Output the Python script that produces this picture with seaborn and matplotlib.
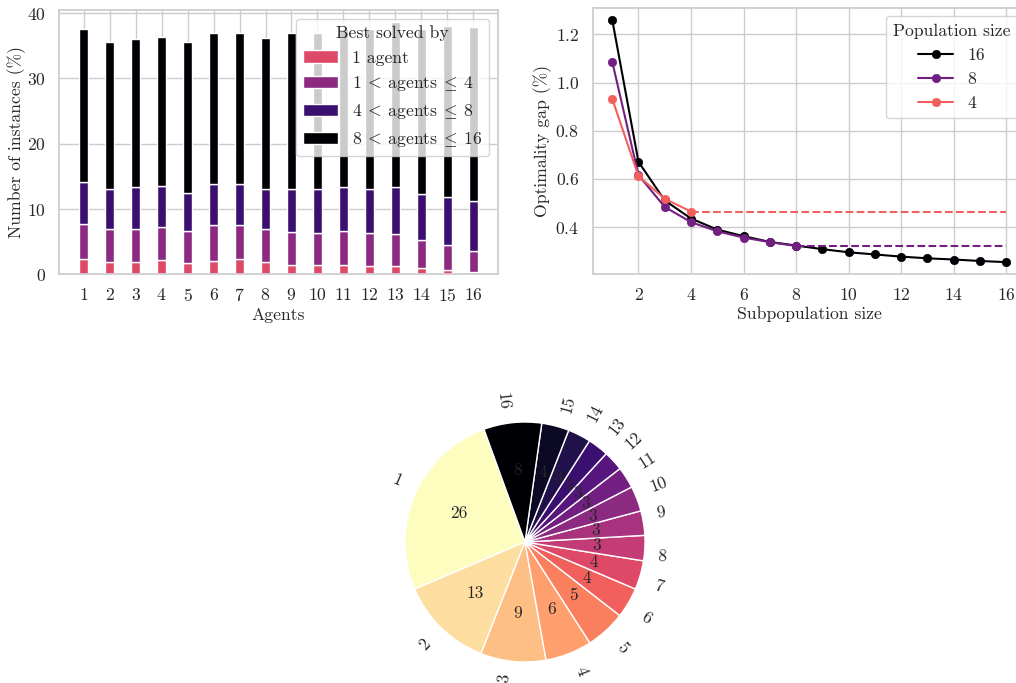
import numpy as np
import matplotlib
matplotlib.use("Agg")
import matplotlib.pyplot as plt
import seaborn as sns

# ---- stacked bars: share of instances best solved by each agent group ----
agents = list(range(1, 17))
one_agent = [2.3, 1.9, 1.9, 2.2, 1.7, 2.05, 2.4, 1.9, 1.5, 1.4, 1.4, 1.3, 1.2, 0.9, 0.7, 0.35]
two_to_four = [5.4, 5.0, 5.0, 5.1, 5.0, 5.45, 5.2, 5.1, 5.0, 4.9, 5.3, 5.0, 5.0, 4.4, 3.8, 3.25]
five_to_eight = [6.5, 6.1, 6.4, 6.3, 5.8, 6.3, 6.3, 6.1, 6.5, 6.7, 6.7, 6.8, 7.1, 7.0, 7.4, 7.7]
nine_to_sixteen = [23.4, 22.6, 22.8, 22.7, 23.1, 23.1, 23.0, 23.1, 24.0, 24.0, 24.1, 24.5, 25.3, 25.3, 26.2, 26.6]
group_labels = ["1 agent",
                r"$1\:<\:\mathrm{agents}\:\leq\:4$",
                r"$4\:<\:\mathrm{agents}\:\leq\:8$",
                r"$8\:<\:\mathrm{agents}\:\leq\:16$"]

# ---- optimality gap vs subpopulation size ----
sub_16 = list(range(1, 17))
gap_16 = [1.261, 0.671, 0.511, 0.436, 0.390, 0.363, 0.339, 0.324,
          0.309, 0.296, 0.287, 0.278, 0.271, 0.266, 0.260, 0.255]
sub_8 = list(range(1, 9))
gap_8 = [1.087, 0.616, 0.484, 0.421, 0.383, 0.357, 0.338, 0.322]
sub_4 = list(range(1, 5))
gap_4 = [0.933, 0.612, 0.518, 0.465]

# ---- pie: share per number of agents ----
pie_labels = [str(i) for i in range(1, 17)]
pie_values = [25.9, 12.6, 8.8, 6.3, 5.4, 4.1, 3.9, 3.4, 3.3, 3.4, 2.9, 2.7, 2.8, 3.1, 3.7, 7.8]

sns.set_theme(style="whitegrid", context="notebook")
plt.rcParams["font.family"] = "serif"
plt.rcParams["font.serif"] = ["cmr10"]
plt.rcParams["mathtext.fontset"] = "cm"
plt.rcParams["axes.formatter.use_mathtext"] = True
plt.rcParams.update({
    "font.size": 12.5,
    "axes.labelsize": 12.7,
    "xtick.labelsize": 12.7,
    "ytick.labelsize": 12.7,
    "legend.fontsize": 12.7,
    "legend.title_fontsize": 12.7,
})

W, H = 1016, 683
fig = plt.figure(figsize=(W / 100, H / 100), dpi=100)


def px_axes(left, top, right, bottom):
    return fig.add_axes([left / W, 1 - bottom / H, (right - left) / W, (bottom - top) / H])


magma = plt.get_cmap("magma")

# stacked bar chart
ax1 = px_axes(59, 9.7, 498, 274.3)
bar_colors = magma([0.6, 0.4, 0.2, 0.0])
bottom = np.zeros(len(agents))
for vals, col, lab in zip([one_agent, two_to_four, five_to_eight, nine_to_sixteen],
                          bar_colors, group_labels):
    ax1.bar(agents, vals, width=0.35, bottom=bottom, color=col,
            edgecolor="white", linewidth=1, label=lab)
    bottom = bottom + np.asarray(vals)
ax1.set_xticks(agents)
ax1.set_xlabel("Agents", labelpad=2)
ax1.set_ylabel("Number of instances (%)", labelpad=1)
ax1.legend(title="Best solved by", loc="upper right")

# optimality gap lines
ax2 = px_axes(592.5, 7.5, 1026, 274.3)
line_colors = magma([0.0, 1 / 3, 2 / 3])
for xs, ys, col, lab in zip([sub_16, sub_8, sub_4], [gap_16, gap_8, gap_4],
                            line_colors, ["16", "8", "4"]):
    sns.lineplot(x=xs, y=ys, ax=ax2, color=col, marker="o", markersize=6,
                 markeredgecolor=col, markeredgewidth=0.5, linewidth=1.5, label=lab)
    if xs[-1] < sub_16[-1]:
        ax2.plot([xs[-1], sub_16[-1]], [ys[-1], ys[-1]], color=col,
                 linestyle="--", linewidth=1.5)
ax2.set_xticks(range(2, 17, 2))
ax2.set_yticks([0.4, 0.6, 0.8, 1.0, 1.2])
ax2.set_xlabel("Subpopulation size", labelpad=2)
ax2.set_ylabel("Optimality gap (%)", labelpad=2)
ax2.legend(title="Population size", loc="upper right")

# pie chart
ax3 = px_axes(375, 392, 675, 692)
pie_colors = magma(np.linspace(1, 0, 16))
ax3.pie(pie_values, labels=pie_labels, colors=pie_colors, autopct="%.0f",
        startangle=110, rotatelabels=True,
        wedgeprops=dict(edgecolor="white", linewidth=1),
        textprops=dict(color=".15", fontsize=12.5))
ax3.set_xlim(-1.25, 1.25)
ax3.set_ylim(-1.25, 1.25)

fig.savefig("out.png", dpi=100)
